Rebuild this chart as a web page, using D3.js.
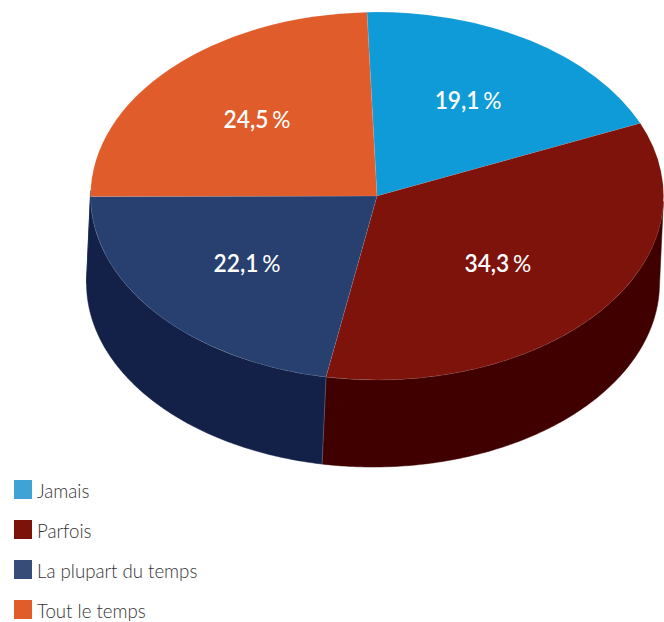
<!DOCTYPE html>
<html lang="fr">
<head>
<meta charset="utf-8">
<script src="https://cdn.jsdelivr.net/npm/d3@7"></script>
<style>
html,body{margin:0;padding:0;background:#fff}
svg{display:block}
text{font-family:Lato,"Open Sans",sans-serif}
</style>
</head>
<body>
<svg id="chart" width="664" height="622"></svg>
<script>
// Survey shares, in percent
const categories = ["Jamais", "Parfois", "La plupart du temps", "Tout le temps"];
const shares = [19.1, 34.3, 22.1, 24.5];
const shareLabels = ["19,1", "34,3", "22,1", "24,5"];
const topColors = ["#0f9bd7", "#7d130b", "#27406f", "#e05c2b"];
const wallColors = ["#400000", "#400000", "#132148", "#132148"];
const legendColors = ["#3fa3d6", "#7b130b", "#384c7a", "#e05c2b"];

const cx = 377, cy = 196, rx = 286.5, ry = 184;
const depthX = -4, depthY = 87;
const startDeg = -2;

// Label anchors on the unit disc (right, up)
const labelAnchors = [[0.318, 0.516], [0.422, -0.37], [-0.454, -0.37], [-0.419, 0.413]];

const svg = d3.select("#chart");
const toRad = Math.PI / 180;

const slices = d3.pie()
  .sort(null)
  .startAngle(startDeg * toRad)
  .endAngle((360 + startDeg) * toRad)(shares);

// Maps a pie angle (clockwise from 12 o'clock) onto the tilted disc
const onRim = (a, dx = 0, dy = 0) => [cx + rx * Math.sin(a) + dx, cy - ry * Math.cos(a) + dy];

// Rim angles where the extrusion direction is tangent: the silhouette of the visible wall
const wallFrom = Math.PI / 2 + Math.atan(-depthX * ry / (depthY * rx));
const wallTo = wallFrom + Math.PI;

// Outer walls: a band between the upper rim and the rim of the lower, offset disc
const walls = svg.append("g");
slices.forEach((s, i) => {
  const from = Math.max(s.startAngle, wallFrom);
  const to = Math.min(s.endAngle, wallTo);
  if (to <= from) return;
  const angles = d3.range(from, to, 0.01).concat([to]);
  const band = angles.map(a => onRim(a)).concat(angles.slice().reverse().map(a => onRim(a, depthX, depthY)));
  walls.append("path")
    .attr("d", d3.line().curve(d3.curveLinearClosed)(band))
    .attr("fill", wallColors[i])
    .attr("stroke", wallColors[i])
    .attr("stroke-width", 0.5);
});
// Faint seam where the two front walls meet
const seam = slices[1].endAngle;
svg.append("line")
  .attr("x1", onRim(seam)[0]).attr("y1", onRim(seam)[1])
  .attr("x2", onRim(seam, depthX, depthY)[0]).attr("y2", onRim(seam, depthX, depthY)[1])
  .attr("stroke", "#fff").attr("stroke-opacity", 0.3).attr("stroke-width", 0.7);

// Top face: a unit pie stretched into an ellipse
const arc = d3.arc().innerRadius(0).outerRadius(1);
svg.append("g")
  .attr("transform", `translate(${cx},${cy}) scale(${rx},${ry})`)
  .selectAll("path")
  .data(slices)
  .join("path")
  .attr("d", arc)
  .attr("fill", (d, i) => topColors[i])
  .attr("stroke", "#fff")
  .attr("stroke-opacity", 0.15)
  .attr("stroke-width", 0.6)
  .attr("vector-effect", "non-scaling-stroke");

// Percentages on the top face: bold figures, lighter percent sign
const labels = svg.append("g")
  .selectAll("text")
  .data(slices)
  .join("text")
  .attr("transform", (d, i) =>
    `translate(${cx + rx * labelAnchors[i][0]},${cy - ry * labelAnchors[i][1] + 8}) scale(0.95,1)`)
  .attr("text-anchor", "middle")
  .attr("fill", "#fff")
  .attr("font-size", 24);
labels.append("tspan")
  .attr("font-weight", 600)
  .text((d, i) => shareLabels[i]);
labels.append("tspan")
  .attr("dx", 4)
  .attr("font-weight", 400)
  .text("%");

// Legend
const legendY = d3.scalePoint().domain(categories).range([480, 600]);
const legend = svg.append("g")
  .selectAll("g")
  .data(categories)
  .join("g")
  .attr("transform", d => `translate(14,${legendY(d)})`);
legend.append("rect")
  .attr("width", 18).attr("height", 19)
  .attr("fill", (d, i) => legendColors[i]);
legend.append("text")
  .attr("transform", "translate(23,18) scale(0.91,1)")
  .attr("font-size", 20.5)
  .attr("font-weight", 300)
  .attr("fill", "#333")
  .text(d => d);
</script>
</body>
</html>
